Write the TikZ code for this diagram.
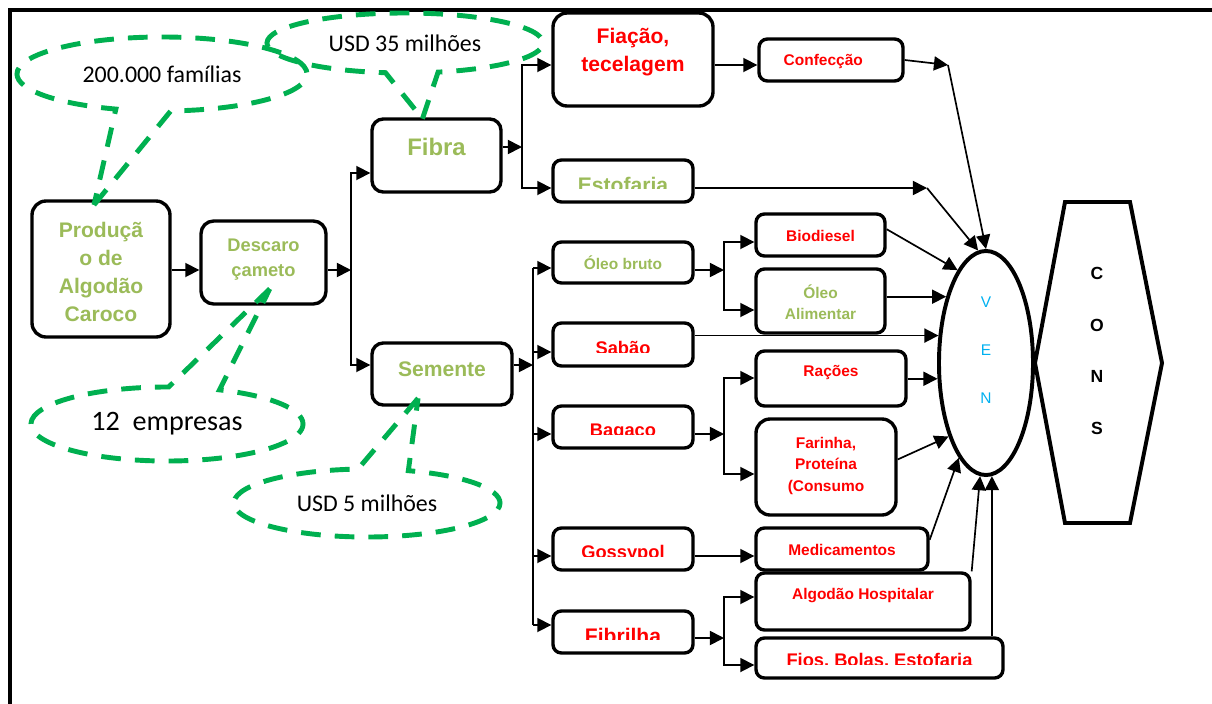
\documentclass[tikz,border=0pt]{standalone}
\usepackage{fontspec}
\setmainfont{Liberation Sans}
\newfontfamily\calibri{Carlito}
\usetikzlibrary{arrows.meta,calc,fit,shapes.geometric,shapes.callouts}
\definecolor{txtgreen}{HTML}{9BBB59}
\definecolor{txtred}{HTML}{FF0000}
\definecolor{venblue}{HTML}{00B0F0}
\definecolor{callgreen}{HTML}{00B050}
\def\cuttext[#1](#2)#3{\begin{scope}\clip (#2.north west) rectangle ($(#2.south east)+(0,-15)$);\node[anchor=base, #1] (#2-t) at ($(#2.south)+(0,-13)$) {#3};\end{scope}}
\tikzset{
  box/.style={draw, line width=2.4pt, rounded corners=6pt, inner sep=0pt},
  >={Triangle[length=10pt,width=10pt]},
  conn/.style={line width=1.2pt, ->},
  fork/.style={line width=1.2pt, <->},
  bubble/.style={ellipse callout, draw=callgreen, line width=3.5pt, dash pattern=on 14pt off 10pt, inner sep=0pt, callout pointer arc=22, font=\calibri\fontsize{17}{20}\selectfont},
  gtxt/.style={text=txtgreen},
  rtxt/.style={text=txtred},
  f17/.style={font=\bfseries\fontsize{17}{20}\selectfont},
  f15/.style={font=\bfseries\fontsize{15}{20}\selectfont},
  f13/.style={font=\bfseries\fontsize{13}{18}\selectfont},
  f11/.style={font=\bfseries\fontsize{11}{15.3}\selectfont},
}
\begin{document}
\begin{tikzpicture}[x=0.025cm, y=-0.025cm]
			%%%%% FRAME %%%%%
			\useasboundingbox (0,0) rectangle (1212,704);
			\draw[line width=2.4pt] (10,704) -- (10,10) -- (1212,10);
			
			%%%%% BOXES %%%%%
			\node[box, rounded corners=10pt, fit={(32,201) (170,337)}, label={[gtxt, f15, align=center, yshift=-2pt]center:{Produçã\\o de\\Algodão\\Caroco}}] (prod) {};
			\node[box, rounded corners=9pt, fit={(201,221) (326,304)}, label={[gtxt, f13, align=center, yshift=2pt]center:{Descaro\\çameto}}] (desc) {};
			\node[box, rounded corners=8pt, fit={(372,119) (501,192)}, label={[gtxt, f17, yshift=6pt]center:Fibra}] (fibra) {};
			\node[box, rounded corners=8pt, fit={(372,343) (512,405)}, label={[gtxt, f15, yshift=3.5pt]center:Semente}] (semente) {};
			
			\node[box, rounded corners=10pt, fit={(553,13) (713,106)}, label={[rtxt, f15, align=center, yshift=5pt]center:{Fiação,\\tecelagem}}] (fiacao) {};
			\node[box, fit={(759,39) (903,81)}, label={[rtxt, f11, xshift=-5.5pt, yshift=-1pt]center:Confecção}] (confeccao) {};
			\node[box, fit={(553,160) (693,202)}] (estofaria) {};
			
			\node[box, fit={(553,242) (693,283)}, label={[gtxt, f11]center:Óleo bruto}] (oleobruto) {};
			\node[box, fit={(756,214) (885,256)}, label={[rtxt, f11, yshift=-1pt]center:Biodiesel}] (biodiesel) {};
			\node[box, fit={(756,269) (885,333)}, label={[gtxt, f11, align=center, yshift=-1pt]center:{Óleo\\Alimentar}}] (oleoalim) {};
			\node[box, fit={(553,323) (693,366)}] (sabao) {};
			\node[box, fit={(756,351) (906,406)}, label={[rtxt, f11, yshift=4pt]center:Rações}] (racoes) {};
			\node[box, fit={(553,406) (693,448)}] (bagaco) {};
			\node[box, rounded corners=10pt, fit={(756,419) (896,515)}, label={[rtxt, f11, align=center, yshift=1pt]center:{Farinha,\\Proteína\\(Consumo}}] (farinha) {};
			\node[box, fit={(553,528) (693,570)}] (gossypol) {};
			\node[box, fit={(756,528) (928,570)}, label={[rtxt, f11, yshift=-1pt]center:Medicamentos}] (medicam) {};
			\node[box, fit={(756,573) (970,630)}, label={[rtxt, f11, yshift=4pt]center:{Algodão Hospitalar}}] (hospital) {};
			\node[box, fit={(553,611) (693,653)}] (fibrilha) {};
			\node[box, fit={(756,638) (1003,678)}] (fios) {};
			
			\cuttext[gtxt, f15, yshift=-1pt](estofaria){Estofaria}
			\cuttext[rtxt, f13](sabao){Sabão}
			\cuttext[rtxt, f13](bagaco){Bagaço}
			\cuttext[rtxt, f13](gossypol){Gossypol}
			\cuttext[rtxt, f15, yshift=-1pt](fibrilha){Fibrilha}
			\cuttext[rtxt, f13](fios){Fios, Bolas, Estofaria}
			
			%%%%% VEN / CONS %%%%%
			\node[draw, ellipse, line width=2.8pt, minimum width=2.35cm, minimum height=5.6cm, inner sep=0pt, label={[text=venblue, align=center, font=\fontsize{11}{34}\selectfont, yshift=9pt]center:{V\\E\\N}}] (ven) at (986,363) {};
			\draw[line width=2.8pt] (1065,202) -- (1130,202) -- (1162,363) -- (1130,523) -- (1065,523) -- (1035,363) -- cycle;
			\node[align=center, font=\bfseries\fontsize{12.5}{36.8}\selectfont] (cons) at (1097,351) {C\\O\\N\\S};
			
			%%%%% LEFT ARROWS %%%%%
			\coordinate (jd) at (351,270);
			\coordinate (ja) at (351,173);
			\coordinate (jb) at (351,365);
			\draw[conn] (jd -| prod.east) -- (jd -| desc.west);
			\draw[conn] (jd -| desc.east) -- (jd);
			\draw[fork] (ja -| fibra.west) -- (ja) -- (jb) -- (jb -| semente.west);
			
			\coordinate (jf) at (522,147);
			\coordinate (jf1) at (522,65);
			\coordinate (jf2) at (522,188);
			\draw[conn] (jf -| fibra.east) -- (jf);
			\draw[fork] (jf1 -| fiacao.west) -- (jf1) -- (jf2) -- (jf2 -| estofaria.west);
			\draw[conn] (jf1 -| fiacao.east) -- (jf1 -| confeccao.west);
			
			\coordinate (js) at (533,365);
			\draw[conn] (js -| semente.east) -- (js);
			\draw[line width=1.2pt] (533,268) coordinate (js1) -- (533,625) coordinate (js5);
			\foreach \dst/\yy in {oleobruto/268, sabao/352, bagaco/434, gossypol/556, fibrilha/625}
				\draw[conn] (533,\yy) coordinate (jt) -- (jt -| \dst.west);
			
			%%%%% SECOND FORKS %%%%%
			\coordinate (jo) at (724,270);
			\coordinate (jo1) at (724,242);
			\coordinate (jo2) at (724,310);
			\draw[conn] (jo -| oleobruto.east) -- (jo);
			\draw[fork] (jo1 -| biodiesel.west) -- (jo1) -- (jo2) -- (jo2 -| oleoalim.west);
			
			\coordinate (jg) at (724,434);
			\coordinate (jg1) at (724,378);
			\coordinate (jg2) at (724,474);
			\draw[conn] (jg -| bagaco.east) -- (jg);
			\draw[fork] (jg1 -| racoes.west) -- (jg1) -- (jg2) -- (jg2 -| farinha.west);
			
			\coordinate (jm) at (724,556);
			\draw[conn] (jm -| gossypol.east) -- (jm -| medicam.west);
			
			\coordinate (jr) at (724,638);
			\coordinate (jr1) at (724,597);
			\coordinate (jr2) at (724,665);
			\draw[conn] (jr -| fibrilha.east) -- (jr);
			\draw[fork] (jr1 -| hospital.west) -- (jr1) -- (jr2) -- (jr2 -| fios.west);
			
			%%%%% INTO VEN %%%%%
			\coordinate (vc) at (948,65);
			\draw[conn] (confeccao.east) -- (vc);
			\draw[conn] (vc) -- (ven.north);
			\coordinate (ve) at (927,188);
			\draw[conn] (ve -| estofaria.east) -- (ve);
			\draw[conn] (ve) -- (ven.94);
			\draw[conn] (biodiesel.5) -- (ven.107);
			\draw[conn] (ven.121 -| oleoalim.east) -- (ven.121);
			\draw[conn] (ven.150 -| sabao.east) -- (ven.150);
			\draw[conn] (ven.198 -| racoes.east) -- (ven.198);
			\draw[conn] (farinha.6) -- (ven.243);
			\draw[conn] (medicam.6) -- (ven.254);
			\draw[conn] (hospital.north east) -- (ven.267);
			\draw[conn] (fios.north -| ven.273) -- (ven.273);
			
			%%%%% CALLOUTS %%%%%
			\node[bubble, minimum width=7.25cm, minimum height=1.85cm, callout absolute pointer={([xshift=-5pt,yshift=-4pt]prod.north)}] (familias) at (162,74) {200.000 famílias};
			\node[bubble, minimum width=6.9cm, minimum height=1.5cm, callout absolute pointer={([xshift=-10pt,yshift=-1pt]fibra.north)}] (usdfibra) at (405,43) {USD 35 milhões};
			\node[bubble, minimum width=6.8cm, minimum height=1.85cm, font=\calibri\fontsize{20}{24}\selectfont, callout absolute pointer={([xshift=4.5pt,yshift=12pt]desc.south)}] (empresas) at (167,424) {12\ \ empresas};
			\node[bubble, minimum width=6.65cm, minimum height=1.7cm, callout absolute pointer={([xshift=-17pt,yshift=6pt]semente.south)}] (usdsemente) at (367,503) {USD 5 milhões};
			
		\end{tikzpicture}
\end{document}
